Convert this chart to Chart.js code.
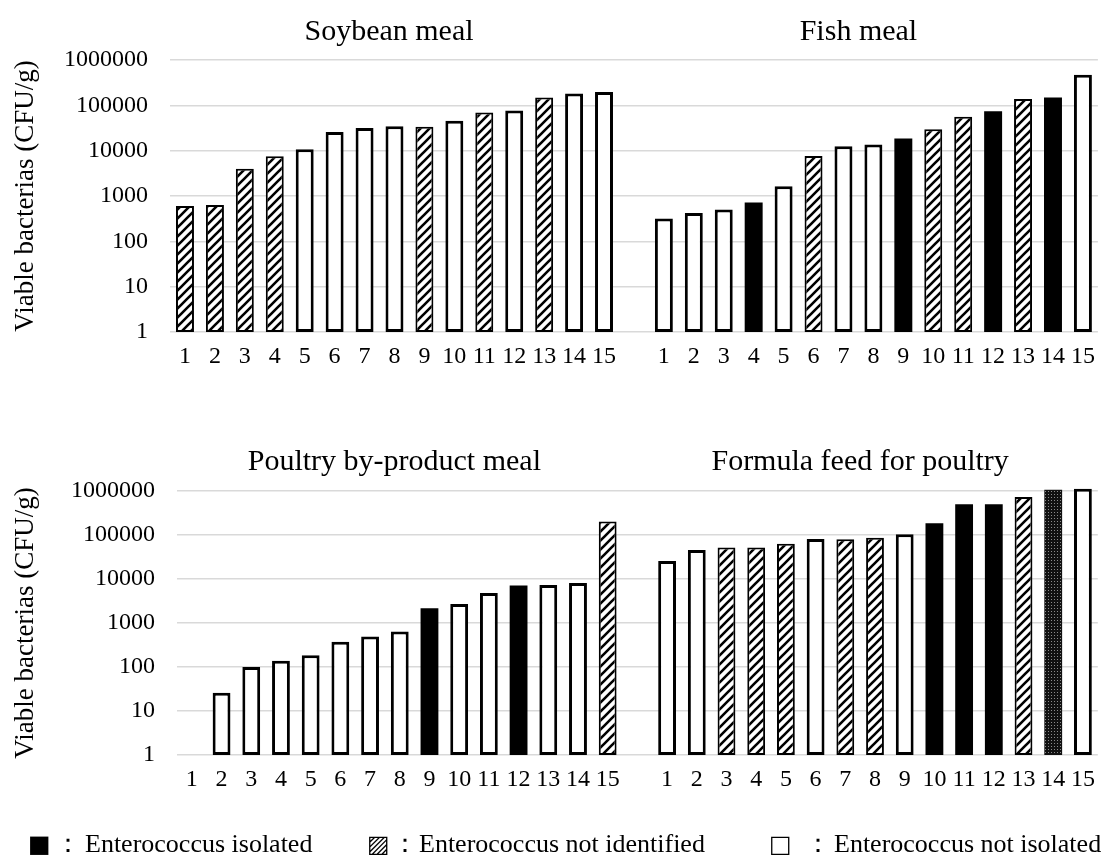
<!DOCTYPE html>
<html>
<head>
<meta charset="utf-8">
<script src="https://cdn.jsdelivr.net/npm/chart.js@4.4.1/dist/chart.umd.min.js"></script>
<style>
  html, body { margin: 0; padding: 0; background: #fff; }
  #wrap { position: relative; width: 1105px; height: 857px; overflow: hidden; font-family: 'Liberation Serif', 'Times New Roman', serif; }
  canvas { position: absolute; left: 0; }
  #chart-top { top: 0; }
  #chart-bottom { top: 430px; }
  .lg { position: absolute; top: 829px; height: 30px; font-size: 26px; line-height: 30px; white-space: nowrap; color: #000; }
  .sym { font-family: 'DejaVu Sans', sans-serif; font-size: 24px; }
</style>
</head>
<body>
<div id="wrap">
  <canvas id="chart-top" width="1105" height="400"></canvas>
  <canvas id="chart-bottom" width="1105" height="400"></canvas>
  <span class="lg sym" style="left:28px">■</span><span class="lg" style="left:55px">：</span><span class="lg" style="left:85px">Enterococcus isolated</span>
  <span class="lg sym" style="left:367px">▨</span><span class="lg" style="left:392px">：</span><span class="lg" style="left:419px">Enterococcus not identified</span>
  <span class="lg sym" style="left:769px">□</span><span class="lg" style="left:805px">：</span><span class="lg" style="left:834px">Enterococcus not isolated</span>
</div>
<script>
const sampleLabels = ['1', '2', '3', '4', '5', '6', '7', '8', '9', '10', '11', '12', '13', '14', '15'];
const yTicks = [1, 10, 100, 1000, 10000, 100000, 1000000];

// I = isolated (black), N = not identified (hatched), O = not isolated (white), D = dotted
const soybeanMeal = [600, 630, 4000, 7500, 10800, 25700, 31500, 34700, 33500, 45600, 69500, 77000, 149000, 183000, 198000];
const soybeanType = ['N', 'N', 'N', 'N', 'O', 'O', 'O', 'O', 'N', 'O', 'N', 'O', 'N', 'O', 'O'];

const fishMeal = [318, 424, 502, 720, 1650, 7600, 12500, 13700, 18600, 29800, 56000, 74000, 138000, 148000, 470000];
const fishType = ['O', 'O', 'O', 'I', 'O', 'N', 'O', 'O', 'I', 'N', 'N', 'I', 'N', 'I', 'O'];

const poultryMeal = [null, 26, 100, 138, 186, 373, 496, 643, 2170, 2690, 4810, 7100, 7340, 8130, 202000];
const poultryType = ['O', 'O', 'O', 'O', 'O', 'O', 'O', 'O', 'I', 'O', 'O', 'I', 'O', 'O', 'N'];

const formulaFeed = [25800, 45700, 51900, 51900, 63000, 81000, 80000, 87000, 104000, 185000, 500000, 500000, 730000, 1070000, 1120000];
const formulaType = ['O', 'O', 'N', 'N', 'N', 'O', 'N', 'N', 'O', 'I', 'I', 'I', 'N', 'D', 'O'];

const topTitles = ['Soybean meal', 'Fish meal'];
const bottomTitles = ['Poultry by-product meal', 'Formula feed for poultry'];
const axisTitle = 'Viable bacterias (CFU/g)';

const FONT = "'Liberation Serif', 'Times New Roman', serif";

function hatchPattern(ctx) {
  const c = document.createElement('canvas');
  c.width = 9; c.height = 9;
  const g = c.getContext('2d');
  g.fillStyle = '#fff';
  g.fillRect(0, 0, 9, 9);
  g.strokeStyle = '#000';
  g.lineWidth = 2.6;
  g.beginPath();
  g.moveTo(0, 9); g.lineTo(9, 0);
  g.moveTo(-2, 2); g.lineTo(2, -2);
  g.moveTo(7, 11); g.lineTo(11, 7);
  g.stroke();
  return ctx.createPattern(c, 'repeat');
}

function dotPattern(ctx) {
  const c = document.createElement('canvas');
  c.width = 3; c.height = 3;
  const g = c.getContext('2d');
  g.fillStyle = '#111';
  g.fillRect(0, 0, 3, 3);
  g.fillStyle = '#8a8a8a';
  g.fillRect(1, 1, 1, 1);
  return ctx.createPattern(c, 'repeat');
}

// panel titles over each half of the row
const panelTitles = {
  id: 'panelTitles',
  afterDraw(chart, args, opts) {
    const x = chart.scales.x;
    const ctx = chart.ctx;
    ctx.save();
    ctx.font = '30px ' + FONT;
    ctx.fillStyle = '#000';
    ctx.textAlign = 'center';
    ctx.textBaseline = 'middle';
    const left = (chart.chartArea.left + x.getPixelForValue(14)) / 2 + 2;
    const right = (x.getPixelForValue(15) + x.getPixelForValue(30)) / 2;
    ctx.fillText(opts.titles[0], left, 32);
    ctx.fillText(opts.titles[1], right, 32);
    ctx.restore();
  }
};

function makeRow(canvasId, leftVals, leftType, rightVals, rightType, titles, yWidth, xHeight, padTop) {
  const canvas = document.getElementById(canvasId);
  const ctx = canvas.getContext('2d');
  const fills = { I: '#000', N: hatchPattern(ctx), O: '#fff', D: dotPattern(ctx) };
  const borders = { I: 0, N: 2, O: 3, D: 0 };

  const labels = sampleLabels.concat([''], sampleLabels);
  const values = leftVals.concat([null], rightVals);
  const types = leftType.concat(['O'], rightType);

  return new Chart(ctx, {
    type: 'bar',
    data: {
      labels: labels,
      datasets: [{
        data: values,
        backgroundColor: types.map(t => fills[t]),
        borderColor: '#000',
        borderWidth: types.map(t => borders[t]),
        borderSkipped: false,
        barPercentage: 0.6,
        categoryPercentage: 1.0,
        clip: false
      }]
    },
    options: {
      responsive: false,
      animation: false,
      devicePixelRatio: 1,
      layout: { padding: { top: padTop, left: 0, right: 5, bottom: 0 } },
      plugins: {
        legend: { display: false },
        tooltip: { enabled: false },
        panelTitles: { titles: titles }
      },
      scales: {
        x: {
          ticks: { font: { family: FONT, size: 24 }, color: '#000', padding: 10, maxRotation: 0, autoSkip: false },
          grid: { display: false, drawTicks: false },
          border: { display: false },
          afterFit: s => { s.height = xHeight; }
        },
        y: {
          type: 'logarithmic',
          min: 1,
          max: 1000000,
          afterBuildTicks: s => { s.ticks = yTicks.map(v => ({ value: v })); },
          afterFit: s => { s.width = yWidth; },
          ticks: { font: { family: FONT, size: 24 }, color: '#000', padding: 22, autoSkip: false, callback: v => String(v) },
          grid: { color: '#d9d9d9', lineWidth: 1.6, drawTicks: false },
          border: { display: false },
          title: { display: true, text: axisTitle, font: { family: FONT, size: 27 }, color: '#000', padding: { top: 10, bottom: 0 } }
        }
      }
    },
    plugins: [panelTitles]
  });
}

makeRow('chart-top', soybeanMeal, soybeanType, fishMeal, fishType, topTitles, 170, 68, 60);
makeRow('chart-bottom', poultryMeal, poultryType, formulaFeed, formulaType, bottomTitles, 177, 75, 61);
</script>
</body>
</html>
